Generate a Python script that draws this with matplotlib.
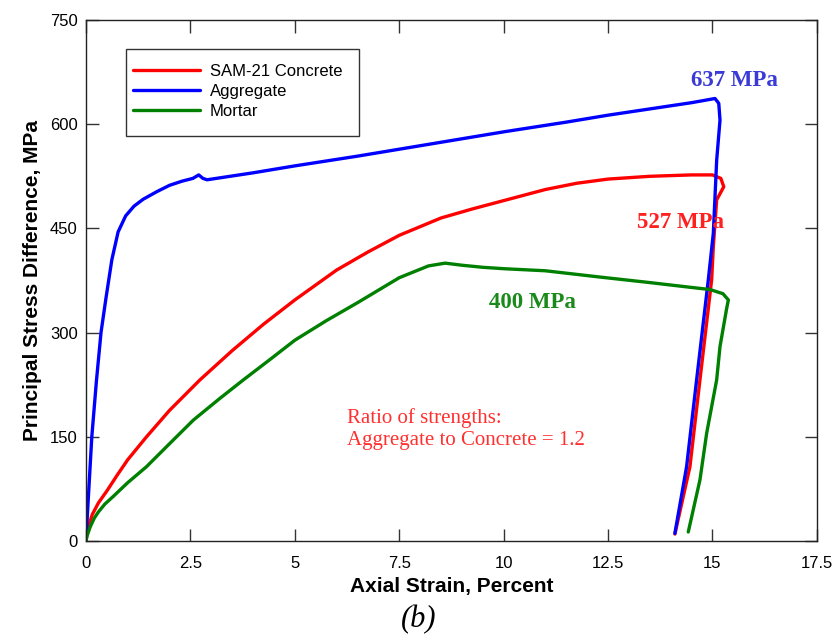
import matplotlib
matplotlib.use('Agg')
import matplotlib.pyplot as plt
from matplotlib.patches import Rectangle

# Axial strain (%) / principal stress difference (MPa)
AGG_X = [0.0, 0.05, 0.14, 0.25, 0.36, 0.48, 0.62, 0.77, 0.95, 1.15, 1.37, 1.7,
         2.0, 2.3, 2.56, 2.7, 2.8, 2.9, 4.0, 5.0, 6.5, 8.0, 10.0, 11.5, 12.5,
         13.5, 14.5, 15.06, 15.15, 15.18, 15.1, 15.02, 14.9, 14.62, 14.38, 14.1]
AGG_Y = [0, 55, 150, 230, 300, 350, 405, 445, 468, 482, 492, 503,
         512, 518, 522, 527, 522, 520, 530, 540, 554, 569, 589, 603, 613,
         622, 631, 637, 630, 606, 548, 443, 376, 232, 107, 11]

CON_X = [0.0, 0.03, 0.08, 0.15, 0.3, 0.5, 0.75, 1.0, 1.45, 2.0, 2.73, 3.5,
         4.25, 5.0, 6.0, 6.75, 7.5, 8.5, 9.25, 10.0, 11.0, 11.75, 12.5, 13.5,
         14.5, 15.0, 15.2, 15.27, 15.1, 15.02, 14.98, 14.7, 14.46, 14.1]
CON_Y = [0, 12, 25, 38, 55, 72, 95, 117, 150, 188, 232, 274,
         312, 347, 390, 416, 440, 465, 478, 490, 506, 515, 521, 525,
         527, 527, 522, 510, 491, 424, 376, 232, 107, 10]

MOR_X = [0.0, 0.03, 0.1, 0.2, 0.3, 0.45, 0.65, 1.0, 1.45, 2.0, 2.57, 3.2,
         3.77, 4.4, 5.0, 5.75, 6.5, 7.5, 8.2, 8.6, 9.0, 9.5, 10.0, 11.0, 12.3,
         13.5, 14.5, 14.94, 15.25, 15.38, 15.34, 15.18, 15.1, 14.86, 14.7, 14.42]
MOR_Y = [0, 8, 20, 33, 42, 53, 64, 84, 107, 140, 174, 205,
         232, 261, 289, 317, 343, 379, 396, 400, 397, 394, 392, 389, 380,
         372, 365, 362, 356, 347, 335, 280, 232, 155, 88, 13]

SERIES = ['SAM-21 Concrete', 'Aggregate', 'Mortar']
COLORS = ['#ff0000', '#0000ff', '#008000']

XTICKS = [0, 2.5, 5, 7.5, 10, 12.5, 15, 17.5]
XTICKLABELS = ['0', '2.5', '5', '7.5', '10', '12.5', '15', '17.5']
YTICKS = [0, 150, 300, 450, 600, 750]

plt.rcParams['font.family'] = ['Liberation Sans', 'DejaVu Sans']
serif = ['Liberation Serif', 'DejaVu Serif']

fig = plt.figure(figsize=(8.37, 6.37), dpi=100)
ax = fig.add_axes([0.1027, 0.1507, 0.8733, 0.8179])

for xs, ys, lab, c in zip([CON_X, AGG_X, MOR_X], [CON_Y, AGG_Y, MOR_Y], SERIES, COLORS):
    ax.plot(xs, ys, color=c, lw=2.4, label=lab,
            solid_joinstyle='round', solid_capstyle='round')

ax.set_xlim(0, 17.5)
ax.set_ylim(0, 750)
ax.set_xticks(XTICKS)
ax.set_xticklabels(XTICKLABELS)
ax.set_yticks(YTICKS)
ax.tick_params(direction='in', length=9, width=1, top=True, right=True,
               labelsize=12, color='#333333')
ax.tick_params(axis='x', pad=11)
ax.tick_params(axis='y', pad=6)
for s in ax.spines.values():
    s.set_linewidth(1.0)
    s.set_color('#222222')

ax.set_xlabel('Axial Strain, Percent', fontsize=15, fontweight='bold', labelpad=4)
ax.set_ylabel('Principal Stress Difference, MPa', fontsize=15, fontweight='bold', labelpad=6)

# legend entries without frame, plus a plain box around them
leg = ax.legend(loc='upper left', bbox_to_anchor=(0.0643, 0.9165), fontsize=12,
                handlelength=4.0, handletextpad=0.6, labelspacing=0.3,
                borderpad=0, borderaxespad=0, frameon=False)
ax.add_patch(Rectangle((0.0547, 0.7774), 0.3188, 0.1669, transform=ax.transAxes,
                       fill=False, edgecolor='#333333', lw=1.0, zorder=5))

ax.text(14.48, 663, '637 MPa', color='#3a3ad6', fontsize=16.5, fontweight='bold',
        family=serif, ha='left', va='center')
ax.text(13.2, 459, '527 MPa', color='#ff2020', fontsize=16.5, fontweight='bold',
        family=serif, ha='left', va='center')
ax.text(9.65, 344, '400 MPa', color='#1a8a1a', fontsize=16.5, fontweight='bold',
        family=serif, ha='left', va='center')
ax.text(6.25, 161, 'Ratio of strengths:\nAggregate to Concrete = 1.2', color='#ff3030',
        fontsize=15, family=serif, ha='left', va='center', linespacing=1.2)

fig.text(0.5, 0.027, '(b)', fontsize=22, style='italic', family=serif,
         ha='center', va='center')

fig.savefig('out.png', dpi=100)
